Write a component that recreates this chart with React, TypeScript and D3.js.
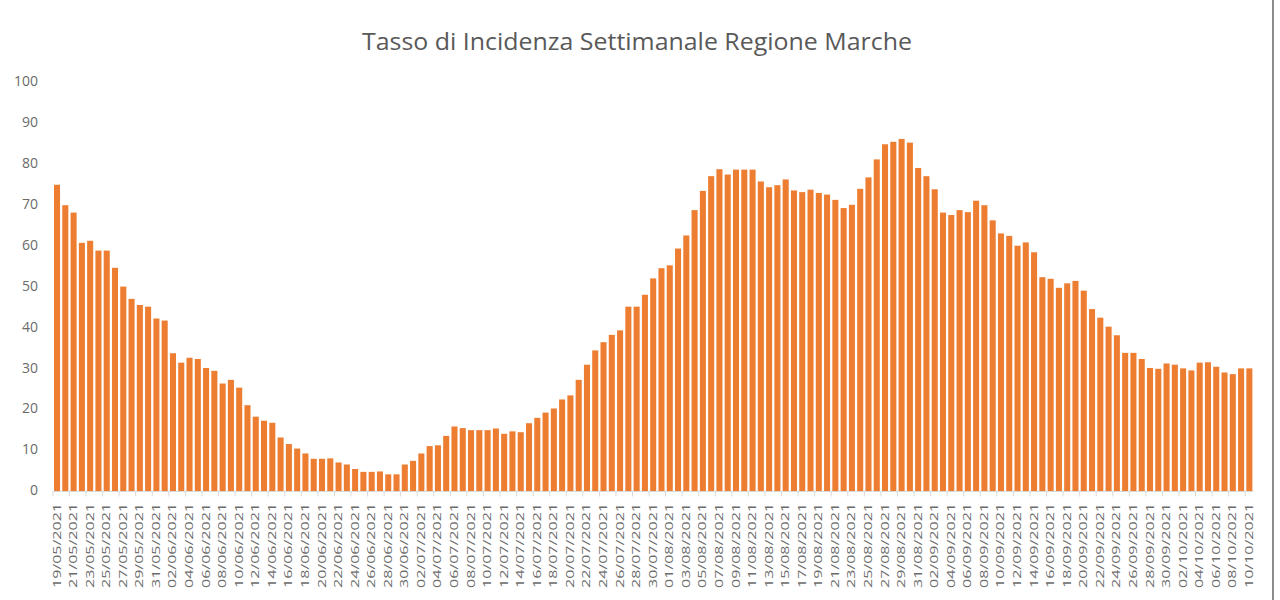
import React from "react";
import * as d3 from "d3";

const TITLE = "Tasso di Incidenza Settimanale Regione Marche";

const START_DATE = new Date(2021, 4, 19);
const END_DATE = new Date(2021, 9, 11); // exclusive
const categories: string[] = d3.timeDay
  .range(START_DATE, END_DATE)
  .map((d) => d3.timeFormat("%d/%m/%Y")(d));

const values: number[] = [
  75, 70, 68.2, 60.8, 61.3, 58.9, 58.9, 54.7, 50.1, 47.1,
  45.6, 45.2, 42.3, 41.8, 33.8, 31.5, 32.7, 32.4, 30.2, 29.5,
  26.4, 27.3, 25.4, 21.1, 18.3, 17.3, 16.8, 13.2, 11.6, 10.5,
  9.3, 8.0, 8.0, 8.1, 7.1, 6.6,
  5.5, 4.8, 4.8, 4.9, 4.2, 4.2, 6.6, 7.5, 9.3, 11.1,
  11.3, 13.6, 15.9, 15.5, 15.0, 15.0, 15.0, 15.4, 14.1, 14.7,
  14.5, 16.7, 18.0, 19.3, 20.3, 22.5, 23.5, 27.3, 31.0, 34.5,
  36.5, 38.3, 39.4, 45.2, 45.2, 48.1,
  52.1, 54.6, 55.3, 59.4, 62.6, 68.8, 73.5, 77.1, 78.8, 77.5,
  78.7, 78.7, 78.7, 75.8, 74.4, 74.9, 76.3, 73.6, 73.2, 73.8,
  73.0, 72.6, 71.3, 69.3, 70.1, 74.0, 76.8, 81.2, 84.9, 85.5,
  86.2, 85.3, 79.1, 77.1, 73.9, 68.2, 67.6, 68.8,
  68.3, 71.1, 70.0, 66.3, 63.1, 62.5, 60.1, 60.9, 58.5, 52.4,
  52.0, 49.8, 50.9, 51.5, 49.1, 44.6, 42.5, 40.3, 38.2, 33.9,
  33.9, 32.4, 30.2, 30.0, 31.3, 31.0, 30.1, 29.6, 31.5, 31.6,
  30.5, 29.1, 28.7, 30.1, 30.1,
];

const yTicks: number[] = [0, 10, 20, 30, 40, 50, 60, 70, 80, 90, 100];

export default function App() {
  const W = 1280;
  const H = 600;
  const left = 52.9;
  const right = 1253.5;
  const y0 = 491.5;
  const y100 = 82.5;

  const x = d3
    .scaleBand<string>()
    .domain(categories)
    .range([left, right])
    .paddingInner(0.27)
    .paddingOuter(0.135);
  const y = d3.scaleLinear().domain([0, 100]).range([y0, y100]);
  const step = x.step();
  const font = "'Open Sans', 'Noto Sans', sans-serif";

  return (
    <svg
      width={W}
      height={H}
      style={{ position: "absolute", left: 0, top: 0, background: "#fff" }}
      fontFamily={font}
    >
      <rect x={0} y={0} width={W} height={H} fill="#fff" />
      <text
        x={637}
        y={50}
        textAnchor="middle"
        fontSize={24}
        fill="#595959"
        textLength={550}
        lengthAdjust="spacingAndGlyphs"
      >
        {TITLE}
      </text>

      {yTicks.map((t) => (
        <text
          key={t}
          x={38}
          y={y(t)}
          textAnchor="end"
          dominantBaseline="middle"
          fontSize={14}
          fill="#6b6b6b"
        >
          {t}
        </text>
      ))}

      {values.map((v, i) => (
        <rect
          key={i}
          x={x(categories[i])}
          y={y(v)}
          width={x.bandwidth()}
          height={y(0) - y(v)}
          fill="#ED7D31"
        />
      ))}

      <line x1={left} x2={right} y1={y0} y2={y0} stroke="#d9d9d9" strokeWidth={1} />
      {categories.map((c, i) =>
        i % 2 === 0 ? (
          <line
            key={"t" + i}
            x1={left + i * step}
            x2={left + i * step}
            y1={y0}
            y2={y0 + 5}
            stroke="#d9d9d9"
            strokeWidth={1}
          />
        ) : null
      )}
      {categories.map((c, i) =>
        i % 2 === 0 ? (
          <text
            key={"l" + i}
            transform={`translate(${(x(c) as number) + x.bandwidth() / 2},503) rotate(-90)`}
            textAnchor="end"
            dy="0.35em"
            fontSize={10}
            fill="#6b6b6b"
            textLength={85}
            lengthAdjust="spacingAndGlyphs"
          >
            {c}
          </text>
        ) : null
      )}

      <line x1={1273} x2={1273} y1={0} y2={H} stroke="#8c8c8c" strokeWidth={2} />
    </svg>
  );
}
